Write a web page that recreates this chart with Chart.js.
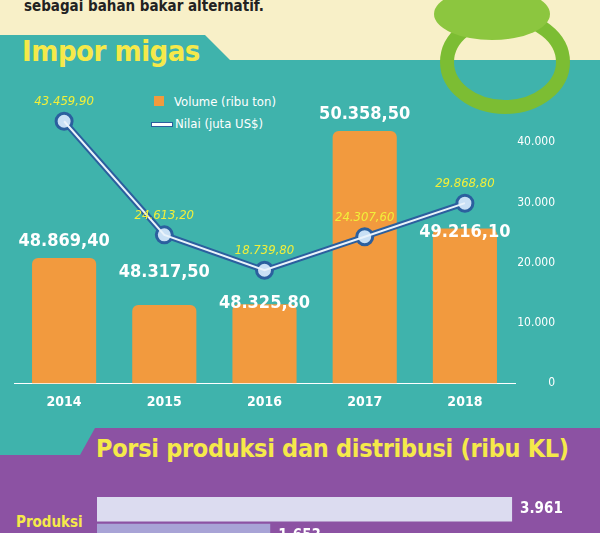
<!DOCTYPE html>
<html><head><meta charset="utf-8">
<script src="https://cdn.jsdelivr.net/npm/chart.js@4/dist/chart.umd.min.js"></script>
<style>
html,body{margin:0;padding:0;width:600px;height:533px;overflow:hidden;font-family:"Open Sans",sans-serif}
#bg{position:absolute;left:0;top:0;width:600px;height:533px;background:#3fb3ac}
.abs{position:absolute;white-space:nowrap}
</style></head><body>
<div id="bg"></div>
<svg class="abs" style="left:0;top:0" width="600" height="533">
<polygon points="0,0 600,0 600,60 230,60 205,35 0,35" fill="#f8f0c8"/>
<polygon points="0,455 80,455 95,428 600,428 600,533 0,533" fill="#8c52a3"/>
<ellipse cx="505" cy="62" rx="58" ry="45" fill="none" stroke="#7cbd33" stroke-width="14"/>
<ellipse cx="492" cy="14" rx="58" ry="26" fill="#8cc63f"/>
</svg>
<div class="abs" style="left:24px;top:-3px;font:bold 15px 'DejaVu Sans Condensed','DejaVu Sans';color:#222">sebagai bahan bakar alternatif.</div>
<div class="abs" style="left:22px;top:34px;font:bold 29px 'DejaVu Sans Condensed','DejaVu Sans';color:#f5e94a;letter-spacing:-0.5px">Impor migas</div>
<div class="abs" style="left:154px;top:94px;font:13px 'DejaVu Sans Condensed';color:#fff"><span style="display:inline-block;width:10px;height:10px;background:#f29a3e;margin-right:10px"></span>Volume (ribu ton)</div>
<div class="abs" style="left:151px;top:116px;font:13px 'DejaVu Sans Condensed';color:#fff"><span style="display:inline-block;width:20px;height:3px;background:#fff;border:1px solid #2b5f9e;vertical-align:middle;margin-right:2px"></span>Nilai (juta US$)</div>
<div class="abs" style="left:96px;top:434px;font:bold 25px 'DejaVu Sans Condensed';color:#f5e94a;letter-spacing:-0.3px">Porsi produksi dan distribusi (ribu KL)</div>
<div class="abs" style="left:16px;top:513px;font:bold 15px 'DejaVu Sans Condensed';color:#f5e94a">Produksi</div>
<div class="abs" style="left:0;top:80px;width:600px;height:334px"><canvas id="c1"></canvas></div>
<div class="abs" style="left:0;top:496px;width:600px;height:80px"><canvas id="c2"></canvas></div>
<script>
const years=["2014","2015","2016","2017","2018"];
const volume=[48869.4,48317.5,48325.8,50358.5,49216.1];
const nilai=[43459.9,24613.2,18739.8,24307.6,29868.8];
const yTicks=[0,10000,20000,30000,40000];
const porsiLabels=["a","b","c"];
const porsiValues=[3961,1653,3500];
const fmt=(v,d)=>v.toLocaleString('de-DE',{minimumFractionDigits:d,maximumFractionDigits:d});
const labelsPlugin={id:'lbl',afterDatasetsDraw(ch){
 const ctx=ch.ctx;ctx.save();ctx.textAlign='center';
 const bm=ch.getDatasetMeta(0), lm=ch.getDatasetMeta(1);
 bm.data.forEach((b,i)=>{ctx.fillStyle='#fff';ctx.font='bold 18px "DejaVu Sans Condensed"';
   let y=b.y-12;
   if(i===2) y=lm.data[2].y+38; if(i===4) y=lm.data[4].y+34; if(i===1) y=lm.data[1].y+42;
   ctx.fillText(fmt(volume[i],2),b.x,y);});
 lm.data.forEach((p,i)=>{ctx.fillStyle='#f2ef3a';ctx.font='italic 13px "DejaVu Sans Condensed"';
   ctx.fillText(fmt(nilai[i],2),p.x,p.y-16);});
 ctx.restore();}};
new Chart(document.getElementById('c1'),{
 data:{labels:years,datasets:[
  {type:'bar',data:volume,yAxisID:'y2',backgroundColor:'#f29a3e',borderRadius:6,borderSkipped:'bottom',barPercentage:0.64,categoryPercentage:1,order:2},
  {type:'line',data:nilai,yAxisID:'y',borderColor:'#2b5f9e',borderWidth:6,pointRadius:8,pointBackgroundColor:'#c9e0f5',pointBorderColor:'#2b5f9e',pointBorderWidth:3,clip:false,order:1},
  {type:'line',data:nilai,yAxisID:'y',borderColor:'#eaf3fb',borderWidth:2,pointRadius:0,clip:false,order:0}
 ]},
 options:{responsive:true,maintainAspectRatio:false,animation:false,
  layout:{padding:{left:14,right:45,top:38,bottom:0}},
  plugins:{legend:{display:false},tooltip:{enabled:false}},
  scales:{
   x:{grid:{display:false},border:{display:true,color:'#ffffff',width:1},ticks:{color:'#fff',font:{family:'DejaVu Sans Condensed',size:14,weight:'bold'}}},
   y:{position:'right',min:0,max:44000,grid:{display:false},border:{display:false},
      afterBuildTicks:a=>{a.ticks=yTicks.map(v=>({value:v}));},
      afterFit:a=>{a.width=40;},
      ticks:{color:'#fff',padding:0,crossAlign:'far',font:{family:'DejaVu Sans Condensed',size:12},callback:v=>fmt(v,0)}},
   y2:{display:false,min:47400,max:50511}
  }},
 plugins:[labelsPlugin]});
new Chart(document.getElementById('c2'),{type:'bar',
 data:{labels:porsiLabels,datasets:[{data:porsiValues,backgroundColor:['#dcdcf0','#a8a3d6','#4b4a9e'],barPercentage:0.92,categoryPercentage:1}]},
 options:{indexAxis:'y',responsive:true,maintainAspectRatio:false,animation:false,
  layout:{padding:{left:97,right:0,top:0,bottom:0}},
  plugins:{legend:{display:false},tooltip:{enabled:false}},
  scales:{x:{display:false,min:0,max:4800},y:{display:false}}},
 plugins:[{id:'v',afterDatasetsDraw(ch){const ctx=ch.ctx;ctx.save();ctx.fillStyle='#fff';ctx.font='bold 15px "DejaVu Sans Condensed"';ctx.textBaseline='middle';
   ch.getDatasetMeta(0).data.slice(0,2).forEach((b,i)=>ctx.fillText(fmt(porsiValues[i],0),b.x+8,b.y));ctx.restore();}}]});
</script></body></html>
